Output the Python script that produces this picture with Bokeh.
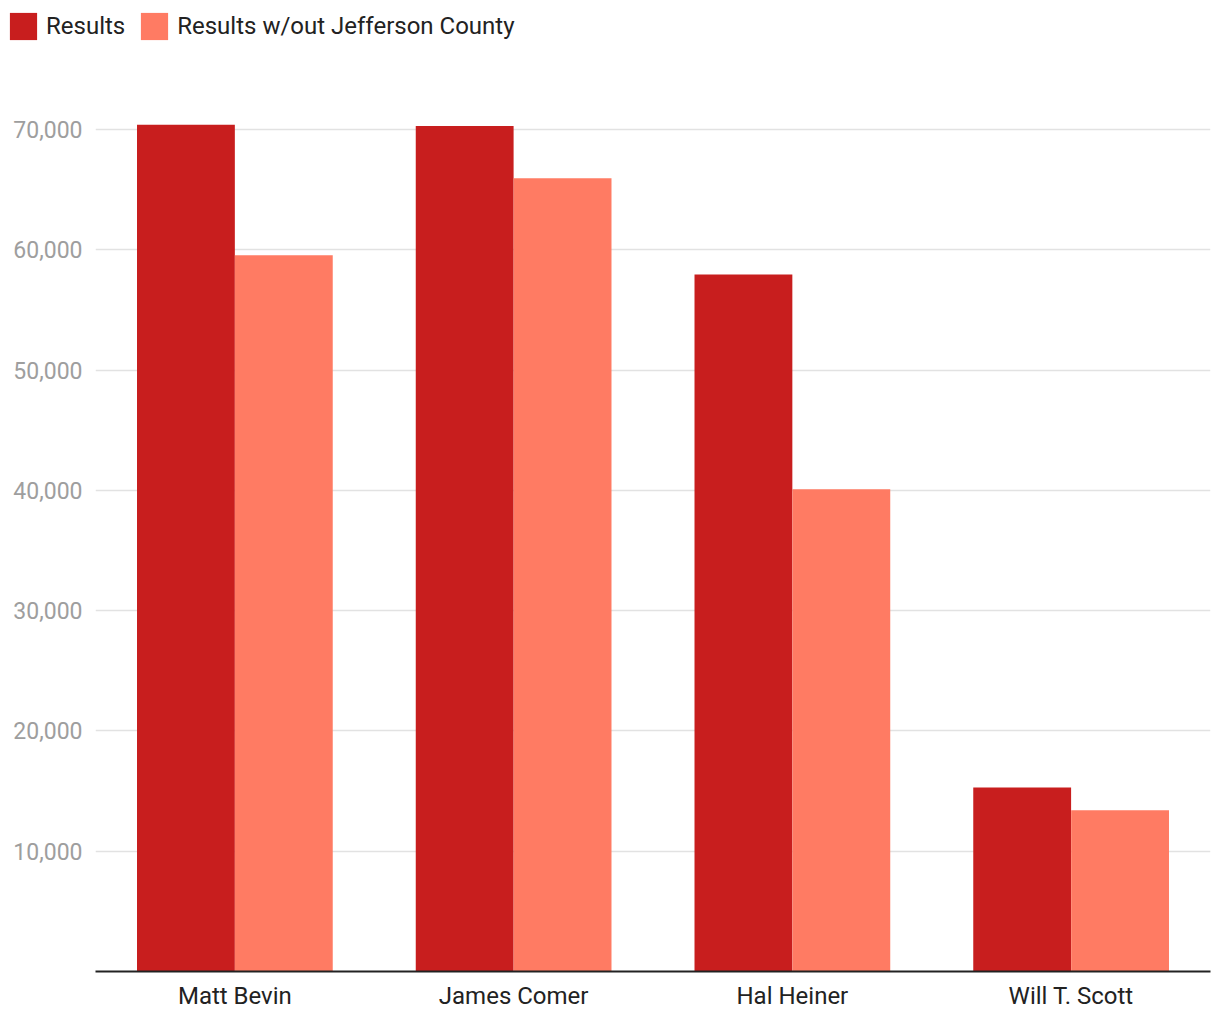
from bokeh.plotting import figure
from bokeh.models import ColumnDataSource, FixedTicker, NumeralTickFormatter, Legend, LegendItem, Range1d
from bokeh.layouts import column, row
from bokeh.transform import dodge
from bokeh.embed import file_html
from bokeh.resources import INLINE

candidates = ["Matt Bevin", "James Comer", "Hal Heiner", "Will T. Scott"]
results = [70400, 70300, 57950, 15300]
results_wo_jefferson = [59550, 65950, 40100, 13400]
y_ticks = [10000, 20000, 30000, 40000, 50000, 60000, 70000]
series_names = ["Results", "Results w/out Jefferson County"]

RED = "#C81E1E"
SALMON = "#FF7B63"
FONT = "Roboto"

src = ColumnDataSource(dict(name=candidates, r=results, rw=results_wo_jefferson))

# legend strip
lg = figure(width=1220, height=55, output_backend="svg", toolbar_location=None,
            x_range=Range1d(0, 1), y_range=Range1d(0, 1),
            x_axis_type=None, y_axis_type=None,
            min_border_left=6, min_border_top=9, min_border_right=0, min_border_bottom=0)
lg.outline_line_color = None
lg.grid.visible = False
lr1 = lg.vbar(x=[10], top=[10], bottom=[9], width=0.1, fill_color=RED, line_color=None)
lr2 = lg.vbar(x=[10], top=[10], bottom=[9], width=0.1, fill_color=SALMON, line_color=None)
legend = Legend(items=[LegendItem(label=series_names[0], renderers=[lr1]),
                       LegendItem(label=series_names[1], renderers=[lr2])],
                orientation="horizontal", location="top_left",
                glyph_width=34, glyph_height=34, label_text_font=FONT,
                label_text_font_size="24px", label_text_color="#222222",
                spacing=12, label_standoff=6, padding=0, margin=0,
                border_line_color=None, background_fill_alpha=0)
lg.add_layout(legend, "center")

p = figure(x_range=candidates, y_range=Range1d(0, 75000), width=1220, height=965,
           output_backend="svg", toolbar_location=None,
           min_border_left=95, min_border_right=10, min_border_top=14, min_border_bottom=49)
p.outline_line_color = None

p.vbar(x=dodge("name", -0.1756, range=p.x_range), top="r", width=0.351, source=src,
       fill_color=RED, line_color=None)
p.vbar(x=dodge("name", 0.1756, range=p.x_range), top="rw", width=0.351, source=src,
       fill_color=SALMON, line_color=None)

p.yaxis.ticker = FixedTicker(ticks=y_ticks)
p.yaxis.formatter = NumeralTickFormatter(format="0,0")
p.yaxis.axis_line_color = None
p.yaxis.major_tick_line_color = None
p.yaxis.minor_tick_line_color = None
p.yaxis.major_label_text_color = "#9e9e9e"
p.yaxis.major_label_text_font = FONT
p.yaxis.major_label_text_font_size = "23px"
p.yaxis.major_label_standoff = 7

p.xaxis.axis_line_color = "#222222"
p.xaxis.axis_line_width = 2
p.xaxis.major_tick_line_color = None
p.xaxis.minor_tick_line_color = None
p.xaxis.major_label_text_color = "#222222"
p.xaxis.major_label_text_font = FONT
p.xaxis.major_label_text_font_size = "24px"
p.xaxis.major_label_standoff = 4

p.xgrid.grid_line_color = None
p.ygrid.grid_line_color = "#e2e2e2"
p.ygrid.grid_line_width = 1.5

layout = column(row(lg), p, spacing=0)
open("out.html", "w").write(file_html(layout, INLINE))
